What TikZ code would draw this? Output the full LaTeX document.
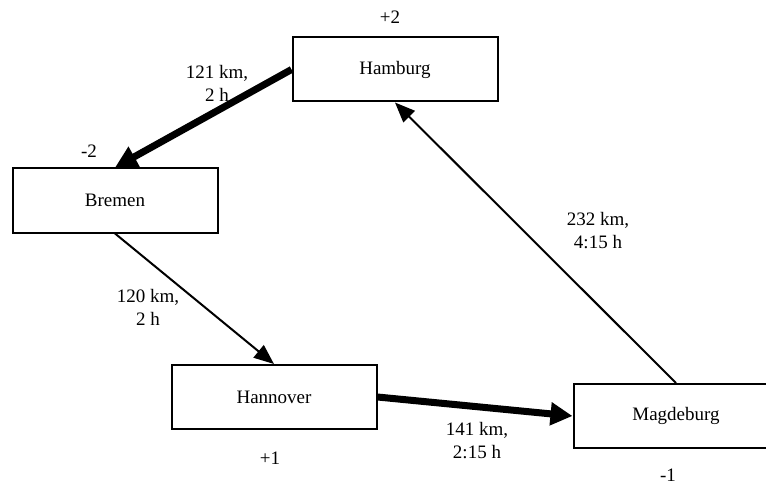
\documentclass[tikz,border=0pt]{standalone}
\usepackage{fontspec}
\setmainfont{Liberation Serif}
\usetikzlibrary{arrows.meta}
\begin{document}
\begin{tikzpicture}[x=1pt,y=-1pt,
  font=\fontsize{19}{23}\selectfont,
  city/.style={draw, line width=2pt, rectangle, minimum width=205pt, minimum height=64pt, inner sep=0pt},
  lbl/.style={align=center, inner sep=0pt},
  thinarrow/.style={line width=2pt, -{Triangle[length=20pt,width=16pt]}},
  thickarrow/.style={line width=7pt, -{Triangle[length=22pt,width=22pt]}}]
  \useasboundingbox (0,0) rectangle (766,484);
  \clip (0,0) rectangle (766,484);

  % cities
  \node[city] (hh) at (395,69.5) {Hamburg};
  \node[city] (hb) at (115,200.5) {Bremen};
  \node[city] (ha) at (274,397) {Hannover};
  \node[city] (md) at (676,416) {Magdeburg};

  % supply / demand
  \node[lbl] (shh) at (390,17) {+2};
  \node[lbl] (shb) at (89,151) {-2};
  \node[lbl] (sha) at (270,458) {+1};
  \node[lbl] (smd) at (668,475) {-1};

  % routes
  \draw[thickarrow] (hh.west) -- (hb.north);
  \draw[thinarrow] (hb.south) -- (ha.north);
  \draw[thickarrow] (ha.east) -- (md.west);
  \draw[thinarrow] (md.north) -- (hh.south);

  % route labels
  \node[lbl] (lhh) at (217,83) {121 km,\\2 h};
  \node[lbl] (lhb) at (148,307) {120 km,\\2 h};
  \node[lbl] (lha) at (477,441) {141 km,\\2:15 h};
  \node[lbl] (lmd) at (598,231) {232 km,\\4:15 h};
\end{tikzpicture}
\end{document}
